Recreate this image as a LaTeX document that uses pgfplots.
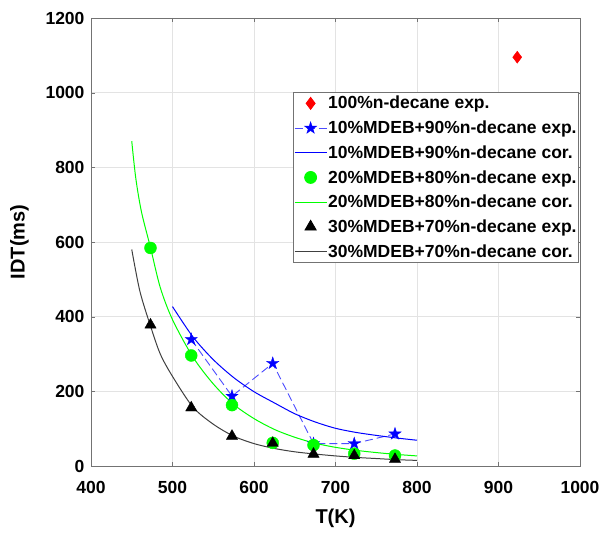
\documentclass[border=0pt]{standalone}
\usepackage{fontspec}
\setmainfont{Liberation Sans}
\usepackage{pgfplots}
\pgfplotsset{compat=1.18}

% filled five-pointed star, like MATLAB's 'p' marker
\pgfdeclareplotmark{fstar}{%
  \pgfpathmoveto{\pgfpointpolar{90}{\pgfplotmarksize}}%
  \pgfpathlineto{\pgfpointpolar{126}{0.382\pgfplotmarksize}}%
  \pgfpathlineto{\pgfpointpolar{162}{\pgfplotmarksize}}%
  \pgfpathlineto{\pgfpointpolar{198}{0.382\pgfplotmarksize}}%
  \pgfpathlineto{\pgfpointpolar{234}{\pgfplotmarksize}}%
  \pgfpathlineto{\pgfpointpolar{270}{0.382\pgfplotmarksize}}%
  \pgfpathlineto{\pgfpointpolar{306}{\pgfplotmarksize}}%
  \pgfpathlineto{\pgfpointpolar{342}{0.382\pgfplotmarksize}}%
  \pgfpathlineto{\pgfpointpolar{18}{\pgfplotmarksize}}%
  \pgfpathlineto{\pgfpointpolar{54}{0.382\pgfplotmarksize}}%
  \pgfpathclose
  \pgfusepathqfillstroke}

\pgfplotsset{
  corline/.style={smooth, color=#1, line width=1pt,
    legend image code/.code={\draw[#1, line width=1pt] (0pt,0pt) -- (32pt,0pt);}},
}

\begin{document}
\begin{tikzpicture}
\begin{axis}[
    scale only axis,
    width=489pt, height=448pt,
    xmin=400, xmax=1000,
    ymin=0, ymax=1200,
    xtick={400,500,...,1000},
    ytick={0,200,...,1200},
    grid=major,
    major grid style={gray!22, line width=0.5pt},
    axis line style={black!55, line width=0.8pt},
    tick style={black!55},
    tick align=inside,
    major tick length=4pt,
    /pgf/number format/assume math mode=true,
    /pgf/number format/set thousands separator={},
    ticklabel style={font=\bfseries\fontsize{17.5}{19}\selectfont},
    xticklabel style={yshift=-12pt},
    yticklabel style={xshift=-3pt},
    xlabel={\bfseries T(K)},
    ylabel={\bfseries IDT(ms)},
    label style={font=\fontsize{20}{22}\selectfont},
    xlabel style={yshift=-8pt},
    ylabel style={yshift=10pt},
    legend cell align=left,
    legend style={
        at={(0.998,0.835)}, anchor=north east,
        font=\bfseries\fontsize{17.5}{19}\selectfont,
        draw=black!55, fill=white, line width=0.8pt,
        inner xsep=1pt, inner ysep=3pt,
        row sep=8.5pt,
        nodes={inner xsep=1pt, inner ysep=1pt},
    },
    legend image code/.code={%
        \draw[mark repeat=2,mark phase=2,#1]
            plot coordinates {(0pt,0pt)(16pt,0pt)(32pt,0pt)};},
]

% 100% n-decane
\addplot[only marks, mark=diamond*, mark size=6pt, color=red] coordinates {
(923,1095)
};
\addlegendentry{100\%n-decane exp.}

% 10% MDEB
\addplot[dashed, dash pattern=on 8pt off 4pt, color=blue!70, line width=0.9pt,
    mark=fstar, mark size=6.5pt, mark options={solid, fill=blue, draw=blue, line width=0.3pt}] coordinates {
(523,339) (573,187) (623,275) (673,60) (723,60) (773,86)
};
\addlegendentry{10\%MDEB+90\%n-decane exp.}

\addplot[corline=blue] coordinates {
(500,427) (525,346) (550,285) (575,237) (600,199) (625,169) (650,140)
(675,118) (700,101) (725,90) (750,82) (775,75) (800,69)
};
\addlegendentry{10\%MDEB+90\%n-decane cor.}

% 20% MDEB
\addplot[only marks, mark=*, mark size=6pt, color=green] coordinates {
(473,584) (523,296) (573,163) (623,62) (673,56) (723,33) (773,28)
};
\addlegendentry{20\%MDEB+80\%n-decane exp.}

\addplot[corline=green] coordinates {
(450,870) (455,770) (462,680) (473,585) (485,478) (500,392) (525,292)
(550,220) (575,165) (600,127) (625,98) (650,77) (675,61) (700,50)
(725,42) (750,36) (775,31) (800,27)
};
\addlegendentry{20\%MDEB+80\%n-decane cor.}

% 30% MDEB
\addplot[only marks, mark=triangle*, mark size=6.5pt, color=black] coordinates {
(473,378) (523,156) (573,80) (623,61) (673,32) (723,28) (773,18)
};
\addlegendentry{30\%MDEB+70\%n-decane exp.}

\addplot[corline=black!75] coordinates {
(450,580) (460,468) (473,375) (485,300) (500,240) (525,158) (550,112)
(575,80) (600,60) (625,47) (650,38) (675,32) (700,27) (725,23)
(750,20) (775,17) (800,15)
};
\addlegendentry{30\%MDEB+70\%n-decane cor.}

\end{axis}
\pgfresetboundingbox
\path[use as bounding box]
    ([shift={(-91pt,-68pt)}]current axis.south west) rectangle
    ([shift={(31pt,18pt)}]current axis.north east);
\end{tikzpicture}
\end{document}
